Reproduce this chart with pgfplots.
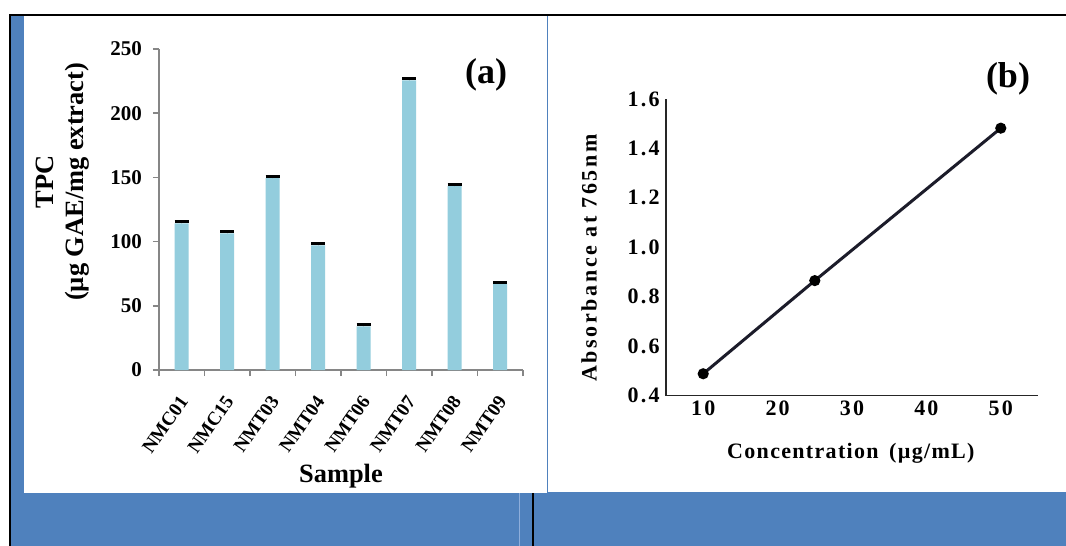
\documentclass[border=0pt]{standalone}
\usepackage{pgfplots}
\pgfplotsset{compat=1.18}
\usepackage{fontspec}
\setmainfont{Liberation Serif}
\newfontfamily\spacedt[LetterSpace=10]{Liberation Serif}
\newfontfamily\spacedx[LetterSpace=6]{Liberation Serif}
\newfontfamily\spacedy[LetterSpace=12]{Liberation Serif}
\definecolor{bgblue}{HTML}{4F81BD}
\definecolor{barblue}{HTML}{93CDDD}
\definecolor{axgray}{HTML}{868686}
\definecolor{lineb}{HTML}{1C1C2A}
\definecolor{lightline}{HTML}{8EAEDB}
\pgfplotstableread{
x y e
0 114.2 1.2
1 106.5 1.2
2 149.4 1.2
3 97.0 1.2
4 34.0 1.2
5 225.5 1.2
6 143.2 1.2
7 67.1 1.2
}\tpcdata
\begin{document}
\begin{tikzpicture}
\begin{scope}[x=0.5pt,y=-0.5pt]
\fill[white] (0,0) rectangle (1066,546);
\useasboundingbox (0,0) rectangle (1066,546);
\fill[bgblue] (11,16) rectangle (1066,546);
\fill[white] (24,16) rectangle (547,493);
\fill[white] (548,16) rectangle (1066,492);
\fill[black] (9,14) rectangle (1066,16);
\fill[black] (9,14) rectangle (11,546);
\fill[lightline] (518.5,493) rectangle (519.5,546);
\fill[black] (532,493) rectangle (534,546);
\node[font=\bfseries\fontsize{18}{20}\selectfont] at (486,75) {(a)};
\node[font=\bfseries\fontsize{18}{20}\selectfont] at (1008,79) {(b)};
\end{scope}

\begin{axis}[
 at={(79.5pt,-185pt)}, anchor=south west,
 scale only axis, width=182pt, height=160.5pt,
 xmin=-0.5, xmax=7.5, ymin=0, ymax=250,
 axis x line=bottom, axis y line=left,
 axis line style={-, axgray, line width=0.75pt},
 ytick={0,50,100,150,200,250},
 xtick={0,...,7},
 xticklabels={NMC01,NMC15,NMT03,NMT04,NMT06,NMT07,NMT08,NMT09},
 minor xtick={-0.5,0.5,...,7.5},
 major x tick style={draw=none},
 tick align=outside, major tick length=3pt, minor tick length=3pt,
 tick style={axgray, line width=0.75pt},
 /pgf/number format/assume math mode=true,
 yticklabel style={font=\bfseries\fontsize{10.5}{12}\selectfont, xshift=-2pt},
 xticklabel style={font=\bfseries\fontsize{9.6}{11}\selectfont, xshift=3pt, yshift=-8pt, rotate=55, anchor=east},
 ylabel={TPC\\(µg GAE/mg extract)},
 ylabel style={align=center, font=\bfseries\fontsize{13.2}{15}\selectfont, at={(axis description cs:-0.266,0.586)}, anchor=center},
 xlabel={Sample},
 xlabel style={font=\bfseries\fontsize{13.2}{15}\selectfont, at={(axis description cs:0.5,-0.33)}, anchor=center},
 clip=false,
]
\addplot[ybar, bar width=7pt, fill=barblue, draw=none,
  error bars/.cd, y dir=plus, y explicit,
  error bar style={black, line width=0.4pt},
  error mark options={black, line width=1.5pt, mark size=3.5pt, rotate=90}]
  table[x=x, y=y, y error=e] {\tpcdata};
\end{axis}

\begin{axis}[
 at={(333pt,-197.75pt)}, anchor=south west,
 scale only axis, width=186pt, height=148.25pt,
 xmin=5, xmax=55, ymin=0.4, ymax=1.6,
 axis x line=bottom, axis y line=left,
 axis line style={-, black!85, line width=0.9pt},
 xtick={10,20,30,40,50},
 ytick={0.4,0.6,0.8,1.0,1.2,1.4,1.6},
 major tick length=0pt,
 /pgf/number format/assume math mode=true,
 /pgf/number format/.cd, fixed, fixed zerofill, precision=1, /pgfplots/.cd,
 xticklabel={\pgfmathprintnumber[fixed, precision=0]{\tick}},
 yticklabel style={font=\spacedt\bfseries\fontsize{11}{12}\selectfont, inner sep=1pt, xshift=-2pt},
 xticklabel style={font=\spacedt\bfseries\fontsize{11}{12}\selectfont, inner sep=1pt, yshift=-1.5pt},
 ylabel={Absorbance at 765nm},
 ylabel style={font=\spacedy\bfseries\fontsize{11}{12}\selectfont, at={(axis description cs:-0.207,0.464)}, anchor=center},
 xlabel={Concentration\, (µg/mL)},
 xlabel style={font=\spacedx\bfseries\fontsize{11}{12}\selectfont, at={(axis description cs:0.497,-0.194)}, anchor=center},
 clip=false,
]
\addplot[lineb, line width=1.5pt, mark=*, mark size=2pt, mark options={fill=black, draw=black}]
 coordinates {(10,0.488) (25,0.865) (50,1.482)};
\end{axis}
\end{tikzpicture}
\end{document}
